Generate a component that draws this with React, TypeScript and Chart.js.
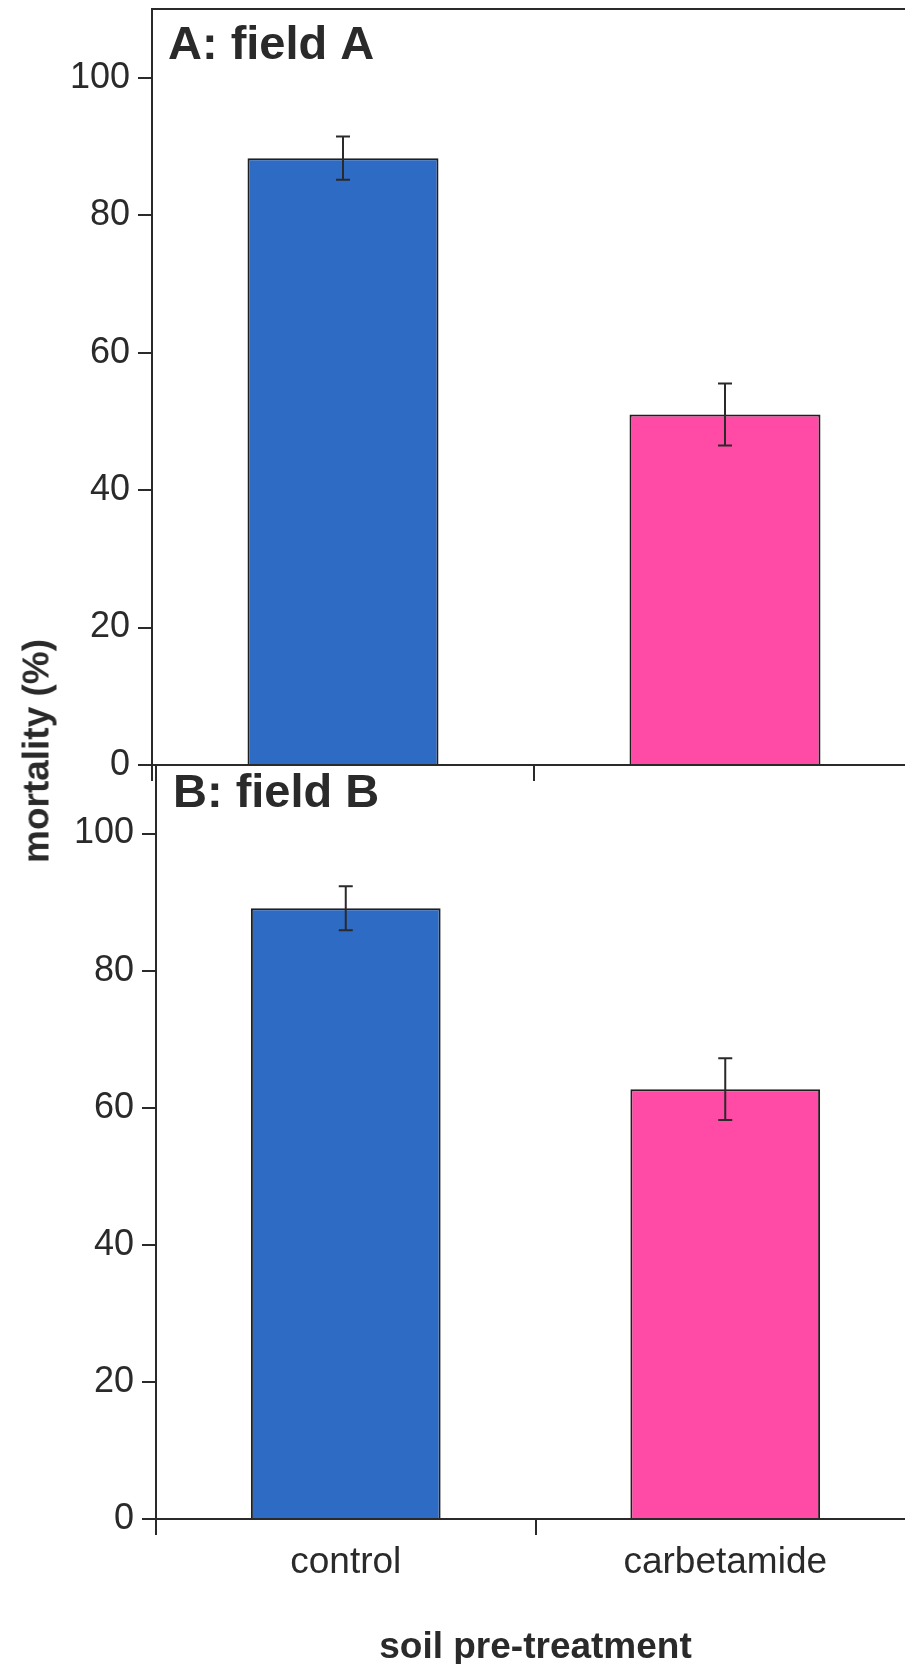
import { useEffect, useRef } from "react";
import { Chart, registerables } from "chart.js";

Chart.register(...registerables);

// ---- data ----
const categories = ["control", "carbetamide"];
const fieldAMeans = [88.3, 51.0];
const fieldAErrors = [3.15, 4.5];
const fieldBMeans = [89.1, 62.7];
const fieldBErrors = [3.2, 4.5];
const yTickValues = [0, 20, 40, 60, 80, 100];
const yMin = 0;
const yMax = 110;
const barColors = ["#2e6bc4", "#ff4aa6"];
const panelATitle = "A: field A";
const panelBTitle = "B: field B";
const yAxisTitle = "mortality (%)";
const xAxisTitle = "soil pre-treatment";

const FONT = "'Liberation Sans', Arial, Helvetica, sans-serif";
const INK = "#2a2a2a";

function errorBarPlugin(errors: number[]) {
  return {
    id: "errorBars",
    afterDatasetsDraw(chart: any) {
      const meta = chart.getDatasetMeta(0);
      const y = chart.scales.y;
      const ctx = chart.ctx;
      const values = chart.data.datasets[0].data as number[];
      ctx.save();
      ctx.strokeStyle = INK;
      ctx.lineWidth = 2;
      meta.data.forEach((bar: any, i: number) => {
        const v = values[i];
        const e = errors[i];
        const top = y.getPixelForValue(v + e);
        const bot = y.getPixelForValue(v - e);
        const cap = 7;
        ctx.beginPath();
        ctx.moveTo(bar.x, top);
        ctx.lineTo(bar.x, bot);
        ctx.moveTo(bar.x - cap, top);
        ctx.lineTo(bar.x + cap, top);
        ctx.moveTo(bar.x - cap, bot);
        ctx.lineTo(bar.x + cap, bot);
        ctx.stroke();
      });
      ctx.restore();
    },
  };
}

function panelLabelPlugin(text: string, dx: number, dy: number) {
  return {
    id: "panelLabel",
    afterDraw(chart: any) {
      const { ctx, chartArea } = chart;
      ctx.save();
      ctx.font = `bold 47px ${FONT}`;
      ctx.fillStyle = INK;
      ctx.textAlign = "left";
      ctx.textBaseline = "alphabetic";
      ctx.fillText(text, chartArea.left + dx, chartArea.top + dy);
      ctx.restore();
    },
  };
}

type PanelProps = {
  means: number[];
  errors: number[];
  title: string;
  top: number;
  width: number;
  height: number;
  padTop: number;
  padRight: number;
  yAxisWidth: number;
  xAxisHeight: number;
  showXLabels: boolean;
  topBorder: boolean;
  labelDx: number;
  labelDy: number;
};

function Panel(p: PanelProps) {
  const ref = useRef<HTMLCanvasElement | null>(null);
  useEffect(() => {
    if (!ref.current) return;
    const scales: any = {
      x: {
        type: "category",
        offset: true,
        grid: {
          offset: true,
          drawOnChartArea: false,
          drawTicks: true,
          tickLength: 16,
          color: INK,
          lineWidth: 2,
        },
        border: { display: true, color: INK, width: 2 },
        ticks: {
          display: p.showXLabels,
          color: INK,
          padding: 6,
          font: { family: FONT, size: 37 },
        },
        title: {
          display: p.showXLabels,
          text: xAxisTitle,
          color: INK,
          font: { family: FONT, size: 37, weight: "bold" },
          padding: { top: 0, bottom: 2 },
        },
        afterFit: (s: any) => {
          s.height = p.xAxisHeight;
          s.paddingLeft = 0;
          s.paddingRight = 0;
        },
      },
      y: {
        type: "linear",
        min: yMin,
        max: yMax,
        afterBuildTicks: (s: any) => {
          s.ticks = yTickValues.map((v) => ({ value: v }));
        },
        grid: {
          drawOnChartArea: false,
          drawTicks: true,
          tickLength: 14,
          color: INK,
          lineWidth: 2,
        },
        border: { display: true, color: INK, width: 2 },
        ticks: {
          color: INK,
          padding: 8,
          font: { family: FONT, size: 36 },
        },
        afterFit: (s: any) => {
          s.width = p.yAxisWidth;
          s.paddingTop = 0;
          s.paddingBottom = 0;
        },
      },
    };
    if (p.topBorder) {
      scales.xTop = {
        type: "category",
        position: "top",
        offset: true,
        grid: { display: false, drawTicks: false },
        border: { display: true, color: INK, width: 2 },
        ticks: { display: false },
        afterFit: (s: any) => {
          s.height = 0;
          s.paddingLeft = 0;
          s.paddingRight = 0;
        },
      };
    }
    const chart = new Chart(ref.current, {
      type: "bar",
      data: {
        labels: categories,
        datasets: [
          {
            data: p.means,
            backgroundColor: barColors,
            borderColor: "#1f1f1f",
            borderWidth: 2,
            categoryPercentage: 1,
            barPercentage: 0.5,
          },
        ],
      },
      options: {
        responsive: false,
        animation: false,
        layout: {
          padding: { top: p.padTop, right: p.padRight, left: 0, bottom: 0 },
        },
        plugins: {
          legend: { display: false },
          tooltip: { enabled: false },
        },
        scales,
      },
      plugins: [errorBarPlugin(p.errors), panelLabelPlugin(p.title, p.labelDx, p.labelDy)],
    });
    return () => chart.destroy();
  }, []);
  return (
    <canvas
      ref={ref}
      width={p.width}
      height={p.height}
      style={{
        position: "absolute",
        left: 0,
        top: p.top,
        width: p.width,
        height: p.height,
      }}
    />
  );
}

export default function App() {
  return (
    <div
      style={{
        position: "absolute",
        left: 0,
        top: 0,
        width: 905,
        height: 1664,
        overflow: "hidden",
        background: "#ffffff",
      }}
    >
      <Panel
        means={fieldAMeans}
        errors={fieldAErrors}
        title={panelATitle}
        top={0}
        width={930}
        height={800}
        padTop={9}
        padRight={14}
        yAxisWidth={152}
        xAxisHeight={35}
        showXLabels={false}
        topBorder={true}
        labelDx={16}
        labelDy={50}
      />
      <Panel
        means={fieldBMeans}
        errors={fieldBErrors}
        title={panelBTitle}
        top={700}
        width={930}
        height={972}
        padTop={65}
        padRight={15}
        yAxisWidth={156}
        xAxisHeight={153}
        showXLabels={true}
        topBorder={false}
        labelDx={17}
        labelDy={42}
      />
      <div
        style={{
          position: "absolute",
          left: 36,
          top: 751,
          transform: "translate(-50%, -50%) rotate(-90deg)",
          whiteSpace: "nowrap",
          fontFamily: FONT,
          fontWeight: "bold",
          fontSize: 37,
          color: INK,
          lineHeight: 1,
        }}
      >
        {yAxisTitle}
      </div>
    </div>
  );
}
